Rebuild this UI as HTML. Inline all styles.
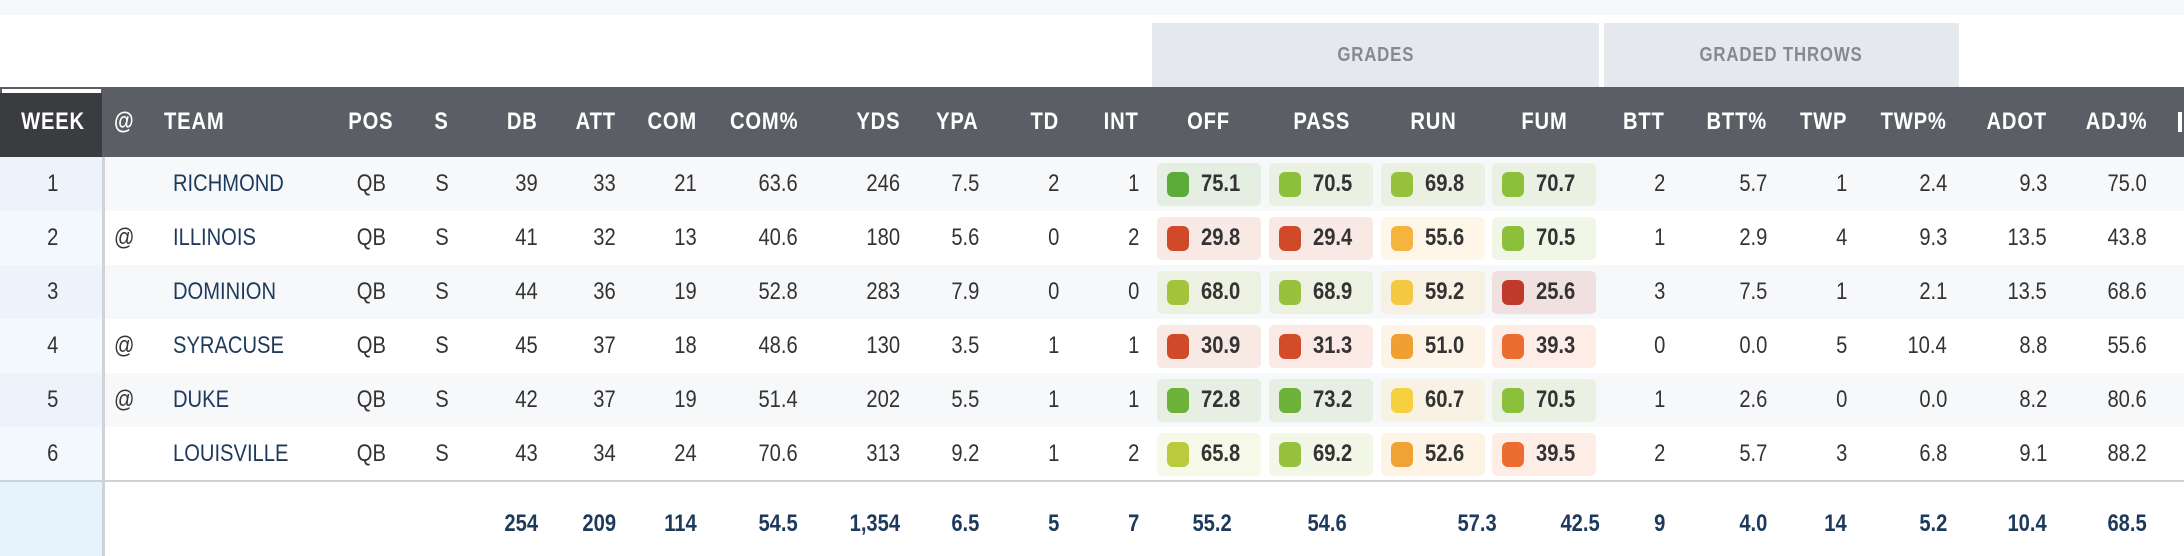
<!DOCTYPE html>
<html><head><meta charset="utf-8">
<style>
html,body{margin:0;padding:0}
body{width:2184px;height:556px;position:relative;overflow:hidden;background:#fff;font-family:"Liberation Sans",Arial,sans-serif}
.a{position:absolute}
.t{position:absolute;white-space:nowrap;font-size:24px;line-height:30px;height:30px}
.t span{display:inline-block;transform:scaleX(.84)}
.r span{transform-origin:right center}
.l span{transform-origin:left center}
.c span{transform-origin:center center}
.h{color:#fff;font-weight:bold;letter-spacing:1px;font-size:24px}
.v{color:#333}
.tm{color:#1d3a5c}
.f{color:#1d3a5c;font-weight:bold}
.box{position:absolute;width:104px;height:43px;border-radius:5px}
.sq{position:absolute;left:10px;top:9px;width:22px;height:25px;border-radius:6px}
.bt{position:absolute;left:44px;top:6px;font-size:24px;font-weight:bold;color:#333;line-height:30px}
.bt span{display:inline-block;transform:scaleX(.84);transform-origin:left center}
</style></head><body>
<div class="a" style="left:0;top:0;width:2184px;height:15px;background:#f7f8fa"></div>
<div class="a" style="left:1152px;top:23px;width:447px;height:64px;background:#e5e8ec"></div>
<div class="a" style="left:1604px;top:23px;width:355px;height:64px;background:#e5e8ec"></div>
<div class="t c" style="left:1152px;width:447px;top:40px;color:#858a91;font-size:20px;font-weight:bold;text-align:center;letter-spacing:1px"><span>GRADES</span></div>
<div class="t c" style="left:1604px;width:355px;top:40px;color:#858a91;font-size:20px;font-weight:bold;text-align:center;letter-spacing:1px"><span>GRADED THROWS</span></div>
<div class="a" style="left:0;top:87px;width:2184px;height:70px;background:#5b5e64"></div>
<div class="a" style="left:0;top:93px;width:102px;height:64px;background:#3b3c40"></div>
<div class="a" style="left:2px;top:89px;width:99px;height:4px;background:#fff"></div>
<div id="rows"></div>
<script>
const R=document.getElementById('rows');
function add(h){R.insertAdjacentHTML('beforeend',h);}
function txt(x,y,s,cls,al,w){
  w=w||200;
  let left = al=='r'? x-w : al=='c'? x-w/2 : x;
  add(`<div class="t ${al} ${cls}" style="left:${left}px;top:${y}px;width:${w}px;text-align:${al=='r'?'right':al=='c'?'center':'left'}"><span>${s}</span></div>`);
}
const hy=107;
txt(53,hy,'WEEK','h','c',100);
txt(114,hy,'@','h','l');
txt(164,hy,'TEAM','h','l');
txt(371,hy,'POS','h','c',80);
txt(442,hy,'S','h','c',40);
const rc=[[538,'DB'],[616,'ATT'],[697,'COM'],[798,'COM%'],[900,'YDS'],[979,'YPA'],[1059,'TD'],[1139,'INT']];
rc.forEach(c=>txt(c[0],hy,c[1],'h','r'));
[[1208,'OFF'],[1322,'PASS'],[1433,'RUN'],[1544,'FUM']].forEach(c=>txt(c[0],hy,c[1],'h','c',120));
const rc2=[[1665,'BTT'],[1767,'BTT%'],[1847,'TWP'],[1947,'TWP%'],[2047,'ADOT'],[2147,'ADJ%']];
rc2.forEach(c=>txt(c[0],hy,c[1],'h','r'));
add('<div class="a" style="left:2178px;top:112px;width:4px;height:20px;background:#fff"></div>');
const data=[
['1','','RICHMOND',39,33,21,'63.6',246,'7.5',2,1,[['75.1','#5aab3a'],['70.5','#8cbf3a'],['69.8','#95c13c'],['70.7','#8cbf3a']],2,'5.7',1,'2.4','9.3','75.0'],
['2','@','ILLINOIS',41,32,13,'40.6',180,'5.6',0,2,[['29.8','#d04a2a'],['29.4','#d04a2a'],['55.6','#f5b43e'],['70.5','#8cbf3a']],1,'2.9',4,'9.3','13.5','43.8'],
['3','','DOMINION',44,36,19,'52.8',283,'7.9',0,0,[['68.0','#a2c33a'],['68.9','#99c23c'],['59.2','#f5c842'],['25.6','#c0392b']],3,'7.5',1,'2.1','13.5','68.6'],
['4','@','SYRACUSE',45,37,18,'48.6',130,'3.5',1,1,[['30.9','#d04a2a'],['31.3','#d24c2a'],['51.0','#f0a030'],['39.3','#eb6e30']],0,'0.0',5,'10.4','8.8','55.6'],
['5','@','DUKE',42,37,19,'51.4',202,'5.5',1,1,[['72.8','#6bb13a'],['73.2','#6bb13a'],['60.7','#f7d040'],['70.5','#8cbf3a']],1,'2.6',0,'0.0','8.2','80.6'],
['6','','LOUISVILLE',43,34,24,'70.6',313,'9.2',1,2,[['65.8','#b9cb3c'],['69.2','#95c13c'],['52.6','#f0a335'],['39.5','#eb6e30']],2,'5.7',3,'6.8','9.1','88.2']];
const bx=[1157,1269,1381,1492];
data.forEach((d,i)=>{
  const top=157+i*54, y=top+12;
  add(`<div class="a" style="left:0;top:${top}px;width:2184px;height:54px;background:${i%2?'#fff':'#f7f8fa'}"></div>`);
  add(`<div class="a" style="left:0;top:${top}px;width:102px;height:54px;background:${i%2?'#f3f8fd':'#edf3fb'}"></div>`);
  txt(53,y,d[0],'v','c',100);
  txt(114,y,d[1],'v','l');
  txt(173,y,d[2],'tm','l');
  txt(371,y,'QB','v','c',80);
  txt(442,y,'S','v','c',40);
  [3,4,5,6,7,8,9,10].forEach((k,j)=>txt(rc[j][0],y,d[k],'v','r'));
  d[11].forEach((g,j)=>{
    add(`<div class="box" style="left:${bx[j]}px;top:${top+6}px;background:${g[1]}1f"><div class="sq" style="background:${g[1]}"></div><div class="bt"><span>${g[0]}</span></div></div>`);
  });
  [12,13,14,15,16,17].forEach((k,j)=>txt(rc2[j][0],y,d[k],'v','r'));
});
add('<div class="a" style="left:0;top:481px;width:2184px;height:75px;background:#fff"></div>');
add('<div class="a" style="left:0;top:481px;width:102px;height:75px;background:#e6f2fc"></div>');
add('<div class="a" style="left:0;top:480px;width:2184px;height:2px;background:#cfd3d8"></div>');
add('<div class="a" style="left:102px;top:157px;width:3px;height:399px;background:#cfd3d8"></div>');
const fy=509;
['254','209','114','54.5','1,354','6.5','5','7'].forEach((s,j)=>txt(rc[j][0],fy,s,'f','r'));
[[1232,'55.2'],[1347,'54.6'],[1497,'57.3'],[1600,'42.5']].forEach(c=>txt(c[0],fy,c[1],'f','r'));
['9','4.0','14','5.2','10.4','68.5'].forEach((s,j)=>txt(rc2[j][0],fy,s,'f','r'));
</script>
</body></html>
